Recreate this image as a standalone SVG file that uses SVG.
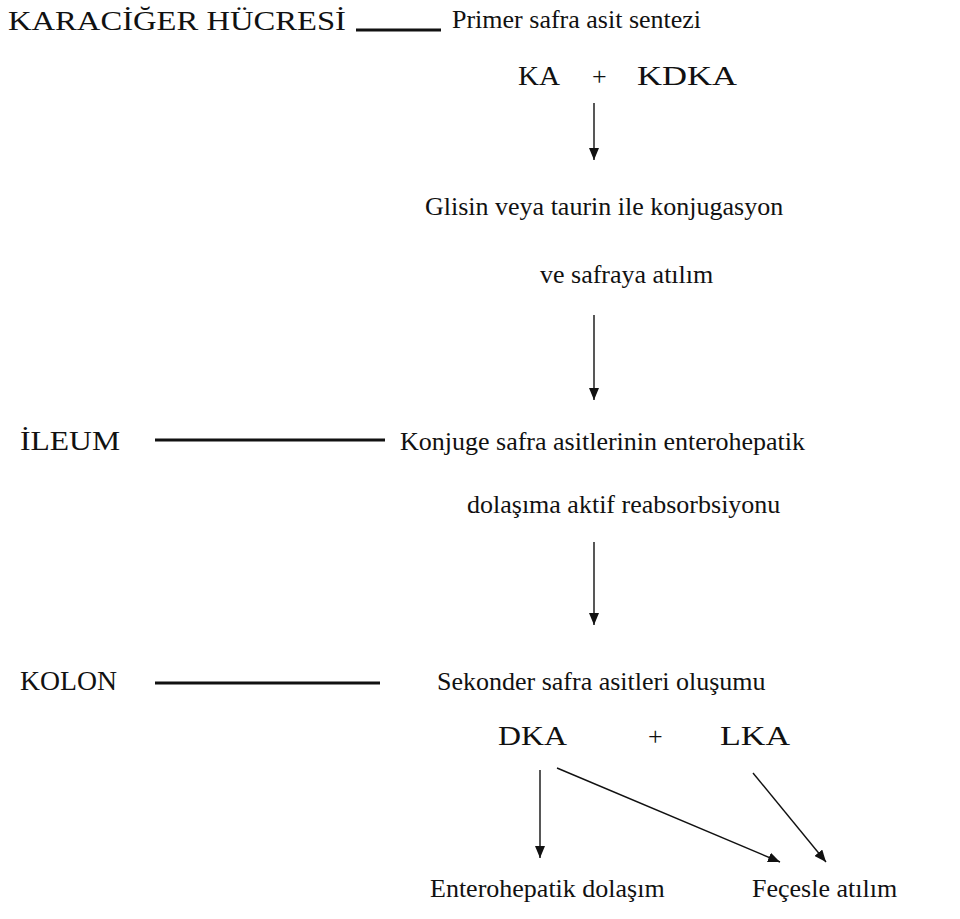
<svg xmlns="http://www.w3.org/2000/svg" width="960" height="919" viewBox="0 0 960 919">
<defs>
<style>
text{font-family:'Liberation Serif','DejaVu Serif','Noto Serif',serif;font-size:26px;fill:#111}
text.cap{font-size:27px}
.c{stroke:#111;stroke-width:1.4;fill:none}
.bar{stroke:#111;stroke-width:3;fill:none}
</style>
<marker id="ah" viewBox="0 0 12 10" refX="12" refY="5" markerWidth="12" markerHeight="10" markerUnits="userSpaceOnUse" orient="auto">
<path d="M0,0 L12,5 L0,10 Z" fill="#111"/>
</marker>
</defs>
<rect width="960" height="919" fill="#fff"/>
<g id="karaciger"><text class="cap" x="8" y="30" textLength="338" lengthAdjust="spacingAndGlyphs">KARACİĞER  HÜCRESİ</text></g>
<g id="primer"><text x="452" y="28">Primer safra asit sentezi</text></g>
<g id="ka"><text class="cap" x="518" y="85" textLength="42" lengthAdjust="spacingAndGlyphs">KA</text><text x="592" y="85">+</text><text class="cap" x="637" y="85" textLength="100" lengthAdjust="spacingAndGlyphs">KDKA</text></g>
<g id="glisin"><text x="425" y="215">Glisin veya taurin ile konjugasyon</text><text x="540" y="283">ve safraya atılım</text></g>
<g id="ileum"><text class="cap" x="20" y="450" textLength="100" lengthAdjust="spacingAndGlyphs">İLEUM</text></g>
<g id="konjuge"><text x="400" y="450">Konjuge safra asitlerinin enterohepatik</text><text x="467" y="513">dolaşıma aktif reabsorbsiyonu</text></g>
<g id="kolon"><text class="cap" x="20" y="690" textLength="97" lengthAdjust="spacingAndGlyphs">KOLON</text></g>
<g id="sekonder"><text x="437" y="690">Sekonder safra asitleri oluşumu</text></g>
<g id="dka"><text class="cap" x="498" y="745" textLength="69" lengthAdjust="spacingAndGlyphs">DKA</text><text x="648" y="745">+</text><text class="cap" x="720" y="745" textLength="70" lengthAdjust="spacingAndGlyphs">LKA</text></g>
<g id="enterohepatik"><text x="430" y="897">Enterohepatik dolaşım</text></g>
<g id="fecesle"><text x="752" y="897">Feçesle atılım</text></g>
<g id="connectors">
<line class="bar" x1="356" y1="30" x2="441" y2="30"/>
<line class="bar" x1="155" y1="440" x2="385" y2="440"/>
<line class="bar" x1="155" y1="683" x2="380" y2="683"/>
<line class="c" x1="594" y1="103" x2="594" y2="160" marker-end="url(#ah)"/>
<line class="c" x1="594" y1="315" x2="594" y2="400" marker-end="url(#ah)"/>
<line class="c" x1="594" y1="542" x2="594" y2="625" marker-end="url(#ah)"/>
<line class="c" x1="540" y1="770" x2="540" y2="858" marker-end="url(#ah)"/>
<line class="c" x1="557" y1="768" x2="780" y2="862" marker-end="url(#ah)"/>
<line class="c" x1="753" y1="773" x2="826" y2="862" marker-end="url(#ah)"/>
</g>
</svg>
